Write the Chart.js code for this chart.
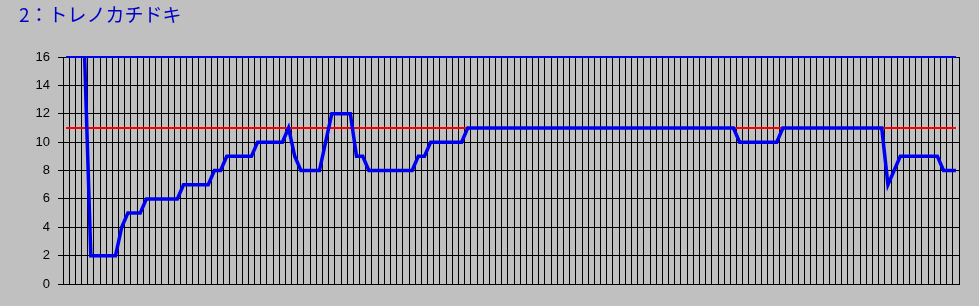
<!DOCTYPE html>
<html>
<head>
<meta charset="utf-8">
<script src="https://cdn.jsdelivr.net/npm/chart.js@4.4.1/dist/chart.umd.min.js"></script>
<style>
  body { margin: 0; background: #c0c0c0; }
  #wrap { position: relative; width: 979px; height: 306px; }
  #title {
    position: absolute; left: 19px; top: 4px;
    font: 19px/19px "Noto Sans CJK JP", sans-serif;
    color: #0000c8; white-space: nowrap;
  }
</style>
</head>
<body>
<div id="wrap">
  <canvas id="myChart" width="979" height="306"></canvas>
  <div id="title">2：トレノカチドキ</div>
</div>
<script>
// 順位の推移 (145 区間)
const positions = [
    null, null, null, 16, 2, 2, 2, 2, 2, 4,
    5, 5, 5, 6, 6, 6, 6, 6, 6, 7,
    7, 7, 7, 7, 8, 8, 9, 9, 9, 9,
    9, 10, 10, 10, 10, 10, 11, 9, 8, 8,
    8, 8, 10, 12, 12, 12, 12, 9, 9, 8,
    8, 8, 8, 8, 8, 8, 8, 9, 9, 10,
    10, 10, 10, 10, 10, 11, 11, 11, 11, 11,
    11, 11, 11, 11, 11, 11, 11, 11, 11, 11,
    11, 11, 11, 11, 11, 11, 11, 11, 11, 11,
    11, 11, 11, 11, 11, 11, 11, 11, 11, 11,
    11, 11, 11, 11, 11, 11, 11, 11, 11, 10,
    10, 10, 10, 10, 10, 10, 11, 11, 11, 11,
    11, 11, 11, 11, 11, 11, 11, 11, 11, 11,
    11, 11, 11, 7, 8, 9, 9, 9, 9, 9,
    9, 9, 8, 8, 8
];
// 着順ライン
const finish = [
    11, 11, 11, 11, 11, 11, 11, 11, 11, 11, 11, 11, 11, 11, 11, 11, 11, 11, 11, 11,
    11, 11, 11, 11, 11, 11, 11, 11, 11, 11, 11, 11, 11, 11, 11, 11, 11, 11, 11, 11,
    11, 11, 11, 11, 11, 11, 11, 11, 11, 11, 11, 11, 11, 11, 11, 11, 11, 11, 11, 11,
    11, 11, 11, 11, 11, 11, 11, 11, 11, 11, 11, 11, 11, 11, 11, 11, 11, 11, 11, 11,
    11, 11, 11, 11, 11, 11, 11, 11, 11, 11, 11, 11, 11, 11, 11, 11, 11, 11, 11, 11,
    11, 11, 11, 11, 11, 11, 11, 11, 11, 11, 11, 11, 11, 11, 11, 11, 11, 11, 11, 11,
    11, 11, 11, 11, 11, 11, 11, 11, 11, 11, 11, 11, 11, 11, 11, 11, 11, 11, 11, 11,
    11, 11, 11, 11, 11
];
// 頭数ライン
const runners = [
    16, 16, 16, 16, 16, 16, 16, 16, 16, 16, 16, 16, 16, 16, 16, 16, 16, 16, 16, 16,
    16, 16, 16, 16, 16, 16, 16, 16, 16, 16, 16, 16, 16, 16, 16, 16, 16, 16, 16, 16,
    16, 16, 16, 16, 16, 16, 16, 16, 16, 16, 16, 16, 16, 16, 16, 16, 16, 16, 16, 16,
    16, 16, 16, 16, 16, 16, 16, 16, 16, 16, 16, 16, 16, 16, 16, 16, 16, 16, 16, 16,
    16, 16, 16, 16, 16, 16, 16, 16, 16, 16, 16, 16, 16, 16, 16, 16, 16, 16, 16, 16,
    16, 16, 16, 16, 16, 16, 16, 16, 16, 16, 16, 16, 16, 16, 16, 16, 16, 16, 16, 16,
    16, 16, 16, 16, 16, 16, 16, 16, 16, 16, 16, 16, 16, 16, 16, 16, 16, 16, 16, 16,
    16, 16, 16, 16, 16
];
const yTicks = [0, 2, 4, 6, 8, 10, 12, 14, 16];
const labels = positions.map((v, i) => String(i + 1));

const ctx = document.querySelector('#myChart');
const chart = new Chart(ctx, {
    type: 'line',
    data: {
        labels,
        datasets: [
            {
                data: positions,
                borderColor: '#0000f0',
                borderWidth: 3.5,
                pointRadius: 0,
                tension: 0,
                clip: 6,
                order: 0,
            },
            {
                data: finish,
                borderColor: '#ff0000',
                borderWidth: 2,
                pointRadius: 0,
                clip: 6,
                order: 1,
            },
            {
                data: runners,
                borderColor: '#0000f0',
                borderWidth: 2,
                pointRadius: 0,
                clip: 6,
                order: 2,
            },
        ],
    },
    options: {
        responsive: false,
        animation: false,
        events: [],
        layout: {
            padding: { top: 57, left: 0, right: 20, bottom: 22 }
        },
        scales: {
            x: {
                offset: true,
                grid: {
                    offset: true,
                    color: '#000000',
                    lineWidth: 1,
                    drawTicks: false,
                },
                border: { color: '#000000' },
                ticks: { display: false },
                afterFit: (scale) => { scale.height = 0; },
            },
            y: {
                min: 0,
                max: 16,
                afterBuildTicks: (scale) => {
                    scale.ticks = yTicks.map(v => ({ value: v }));
                },
                grid: {
                    color: '#000000',
                    lineWidth: 1,
                    tickLength: 5,
                },
                border: { color: '#000000' },
                ticks: {
                    color: '#000000',
                    padding: 8,
                    font: { family: 'Liberation Sans', size: 13 },
                },
                afterFit: (scale) => { scale.width = 63; },
            }
        },
        plugins: {
            legend: { display: false },
            tooltip: { enabled: false },
            title: { display: false },
        }
    }
});
</script>
</body>
</html>
